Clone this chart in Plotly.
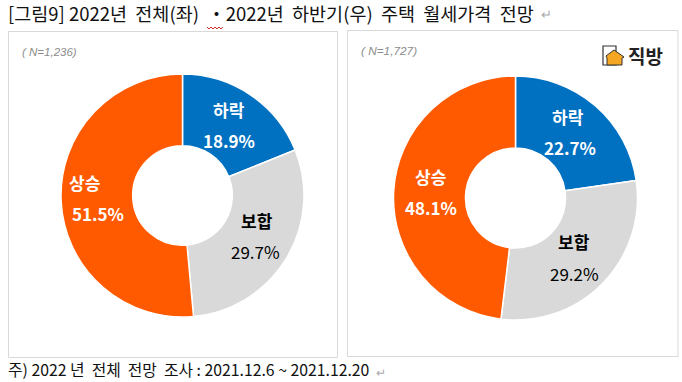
import plotly.graph_objects as go

W, H = 682, 382
categories = ["하락", "보합", "상승"]
values_left = [18.9, 29.7, 51.5]
values_right = [22.7, 29.2, 48.1]
colors = ["#0070C0", "#D9D9D9", "#FF5A00"]
text_colors = ["#FFFFFF", "#000000", "#FFFFFF"]
FONT = "Noto Sans CJK KR"

def X(p): return p / W
def Y(p): return 1 - p / H

fig = go.Figure()

def pie(vals, x0, x1, y0, y1):
    fig.add_trace(go.Pie(
        labels=categories, values=vals, sort=False, direction="clockwise", rotation=0,
        hole=0.41, textinfo="none", hoverinfo="label+percent",
        marker=dict(colors=colors, line=dict(color="#FFFFFF", width=1.5)),
        domain=dict(x=[X(x0), X(x1)], y=[Y(y1), Y(y0)]), showlegend=False))

pie(values_left, 61, 304, 74, 317)
pie(values_right, 393, 638, 76, 320)

shapes = []
for x0, y0, x1, y1 in [(8.5, 31.5, 337.5, 357.5), (347.5, 30.5, 678, 356.5)]:
    shapes.append(dict(type="rect", xref="paper", yref="paper", x0=X(x0), x1=X(x1),
                       y0=Y(y1), y1=Y(y0), line=dict(color="#D9D9D9", width=1),
                       fillcolor="rgba(0,0,0,0)", layer="below"))

shapes.append(dict(type="path", xref="paper", yref="paper", layer="above",
    path="M %f %f " % (X(207), Y(27)) + " ".join(
        "L %f %f" % (X(207 + 2 * i), Y(29 if i % 2 else 27)) for i in range(1, 9)),
    line=dict(color="#D03030", width=1)))

shapes.append(dict(type="rect", xref="paper", yref="paper", x0=X(603), x1=X(616), y0=Y(65), y1=Y(46),
                   line=dict(color="#333333", width=1.2), fillcolor="#FFFFFF"))
shapes.append(dict(type="path", xref="paper", yref="paper",
    path=f"M {X(606)} {Y(56)} L {X(614)} {Y(50)} L {X(624)} {Y(57)} L {X(622)} {Y(58)} L {X(622)} {Y(65)} L {X(607)} {Y(65)} L {X(607)} {Y(58)} Z",
    line=dict(color="#333333", width=1), fillcolor="#F5A623"))

def note(px, py, text, size, color="#000000", bold=False, italic=False, anchor="center", family=FONT):
    if bold:
        text = f"<b>{text}</b>"
    if italic:
        text = f"<i>{text}</i>"
    return dict(x=X(px), y=Y(py), xref="paper", yref="paper", text=text, showarrow=False,
                xanchor=anchor, yanchor="middle", align="left" if anchor == "left" else "center",
                font=dict(size=size, color=color, family=family))

def pct(v): return f"{v:.1f}%"

ann = [
    note(6, 13, "[그림9] 2022년  전체(좌)  ・2022년  하반기(우)  주택  월세가격  전망", 18.5, "#111111", anchor="left"),
    note(6, 369, "주) 2022 년  전체  전망  조사 : 2021.12.6 ~ 2021.12.20", 15.8, "#111111", anchor="left"),
    note(20, 52, "( N=1,236)", 11.5, "#8C8C8C", italic=True, anchor="left", family="Liberation Sans"),
    note(359, 51, "( N=1,727)", 11.8, "#8C8C8C", italic=True, anchor="left", family="Liberation Sans"),
    note(645, 55, "직방", 19, "#222222", bold=True),
]

pos_left = [(229, 109, 229, 140), (257, 220, 255, 251), (84, 182, 98, 213)]
pos_right = [(568, 116, 570, 147), (574, 241, 574, 273), (430, 176, 431, 207)]
for vals, pos in [(values_left, pos_left), (values_right, pos_right)]:
    for cat, v, c, (lx, ly, vx, vy) in zip(categories, vals, text_colors, pos):
        ann.append(note(lx, ly, cat, 17, c, bold=True))
        ann.append(note(vx, vy, pct(v), 17, c, bold=c == "#FFFFFF"))

ann.append(note(546, 14, "↵", 13, "#AAAAAA"))
ann.append(note(381, 371, "↵", 12, "#AAAAAA"))

fig.update_layout(width=W, height=H, margin=dict(l=0, r=0, t=0, b=0),
                  paper_bgcolor="#FFFFFF", plot_bgcolor="#FFFFFF",
                  shapes=shapes, annotations=ann, font=dict(family=FONT))
fig.write_html("out.html", config={"displayModeBar": False},
               post_script="document.body.style.margin='0';document.documentElement.style.overflow='hidden';")
